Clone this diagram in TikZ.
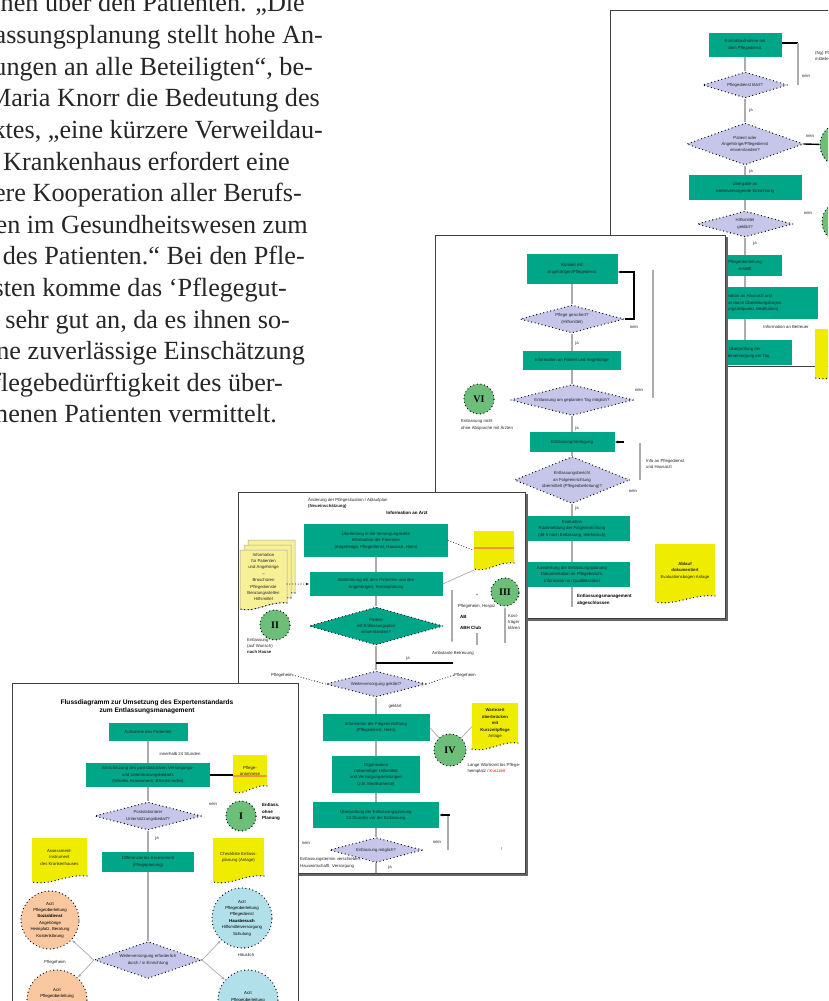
\documentclass[tikz,border=0pt]{standalone}
\usepackage{fontspec}
\setmainfont{Liberation Serif}
\setsansfont{Liberation Sans}
\usetikzlibrary{shapes.geometric,arrows.meta}
\definecolor{tealbox}{RGB}{0,166,136}
\definecolor{lav}{RGB}{198,198,234}
\definecolor{ynt}{RGB}{240,236,0}
\definecolor{paley}{RGB}{248,240,150}
\definecolor{grnc}{RGB}{108,190,120}
\definecolor{orc}{RGB}{250,200,160}
\definecolor{bluc}{RGB}{178,224,234}
\definecolor{lgray}{RGB}{172,172,172}
\definecolor{stripec}{RGB}{238,150,60}
\newcommand\tf{\fontsize{4.3}{6.4}\selectfont\sffamily}
\newcommand\tfb{\fontsize{4.5}{6.4}\selectfont\sffamily\bfseries}
\newcommand\ttl{\fontsize{6.6}{8}\selectfont\sffamily\bfseries}
\newcommand\rom{\fontsize{10}{10}\selectfont\rmfamily\bfseries}
\tikzset{
 pgbox/.style={draw=black!75,fill=white,line width=1pt},
 pshadow/.style={fill=black!60},
 tb/.style={rectangle,fill=tealbox,draw=none,inner sep=0pt,align=center,font=\tf,text=black!85},
 dia/.style={shape=diamond,fill=lav,draw=black,line width=1.3pt,dash pattern=on 0pt off 3.6pt,line cap=round,inner sep=0pt},
 circ/.style={circle,draw=black,line width=1.3pt,dash pattern=on 0pt off 3.6pt,line cap=round,inner sep=0pt,align=center},
 lab/.style={font=\tf,inner sep=0pt,text=black!85},
 labb/.style={font=\tfb,inner sep=0pt,text=black},
 ln/.style={draw=lgray,line width=1.4pt},
 thk/.style={draw=black,line width=1.4pt},
 thn/.style={draw=lgray,line width=0.7pt},
 dl/.style={draw=black!85,line width=1.1pt,dash pattern=on 0pt off 2.8pt,line cap=round},
 dotb/.style={draw=black,line width=1.3pt,dash pattern=on 0pt off 3.6pt,line cap=round},
 arr/.style={-{Latex[length=3.5pt,width=3pt]}},
}
% yellow note: name, centre, width, height, fill options, text
\newcommand\ynote[6]{%
 \node[inner sep=0pt,outer sep=0pt,minimum width=#3,minimum height=#4] (#1) at #2 {};
 \fill[#5] (#1.north west) -- (#1.north east) -- ([yshift=7pt]#1.south east)
   .. controls ([xshift=-0.4*#3,yshift=9pt]#1.south east) and ([xshift=0.35*#3,yshift=-3pt]#1.south west) .. ([yshift=1pt]#1.south west) -- cycle;
 \draw[dotb] ([yshift=7pt]#1.south east)
   .. controls ([xshift=-0.4*#3,yshift=9pt]#1.south east) and ([xshift=0.35*#3,yshift=-3pt]#1.south west) .. ([yshift=1pt]#1.south west);
 \node[lab,align=center] at ([yshift=3pt]#1.center) {#6};
}
\begin{document}
\begin{tikzpicture}[x=1pt,y=-1pt]
\useasboundingbox (0,0) rectangle (828,1001);
\clip (0,0) rectangle (828,1001);
\fill[white] (0,0) rectangle (828,1001);

% ---------------- body text
\begin{scope}[font=\fontsize{26.2}{31.6}\selectfont\rmfamily, text=black!85]
\node[anchor=base east,inner sep=0pt] (l01) at (305,12) {Informationen über den Patienten. „Die};
\node[anchor=base east,inner sep=0pt] (l02) at (323,43.6) {Entlassungsplanung stellt hohe An-};
\node[anchor=base east,inner sep=0pt] (l03) at (313,75.2) {forderungen an alle Beteiligten“, be-};
\node[anchor=base east,inner sep=0pt] (l04) at (320,106.8) {tont Maria Knorr die Bedeutung des};
\node[anchor=base east,inner sep=0pt] (l05) at (323,138.4) {Projektes, „eine kürzere Verweildau-};
\node[anchor=base east,inner sep=0pt] (l06) at (290,170) {er im Krankenhaus erfordert eine};
\node[anchor=base east,inner sep=0pt] (l07) at (302,201.6) {engere Kooperation aller Berufs-};
\node[anchor=base east,inner sep=0pt] (l08) at (308,233.2) {gruppen im Gesundheitswesen zum};
\node[anchor=base east,inner sep=0pt] (l09) at (305,264.8) {Wohle des Patienten.“ Bei den Pfle-};
\node[anchor=base east,inner sep=0pt] (l10) at (287,296.4) {gediensten komme das ‘Pflegegut-};
\node[anchor=base east,inner sep=0pt] (l11) at (290,328) {achten’ sehr gut an, da es ihnen so-};
\node[anchor=base east,inner sep=0pt] (l12) at (305,359.6) {fort eine zuverlässige Einschätzung};
\node[anchor=base east,inner sep=0pt] (l13) at (283,391.2) {der Pflegebedürftigkeit des über-};
\node[anchor=base east,inner sep=0pt] (l14) at (277,422.8) {nommenen Patienten vermittelt.};
\end{scope}

% ---------------- page 4
\draw[pgbox] (610,10) rectangle (880,366);
\node[tb,minimum width=73pt,minimum height=24pt] (b41) at (745,45) {Kontaktaufnahme mit\\dem Pflegedienst};
\node[dia,minimum width=85pt,minimum height=26pt] (d41) at (745,85) {};
\node[lab] at (d41) {Pflegedienst klärt?};
\node[dia,minimum width=117pt,minimum height=42pt] (d42) at (745,144) {};
\node[lab,align=center] at (d42) {Patient oder\\Angehörige/Pflegedienst\\einverstanden?};
\node[tb,minimum width=113pt,minimum height=25pt] (b42) at (745,187.5) {Übergabe an\\weiterversorgende Einrichtung};
\node[dia,minimum width=96pt,minimum height=26pt] (d43) at (745,224) {};
\node[lab,align=center] at (d43) {Hilfsmittel\\geklärt?};
\node[tb,minimum width=74pt,minimum height=21pt] (b43) at (745,265.5) {Pflegeüberleitung\\erstellt};
\node[tb,minimum width=146pt,minimum height=32pt] (b44) at (745,303) {Information an Hausarzt und\\Pflegedienst durch Überleitungsbogen\\(Entlassungszeitpunkt, Medikation)};
\node[tb,minimum width=94pt,minimum height=25pt] (b45) at (745,352.5) {Überprüfung der\\Weiterversorgung am Tag};
\node[circ,fill=grnc,minimum size=44pt,font=\rom] (c41) at (842,145) {V};
\node[circ,fill=grnc,minimum size=42pt,font=\rom] (c42) at (843,222) {VII};
\ynote{n41}{(842,354)}{54pt}{50pt}{ynt}{Anlage\\Bogen}
\draw[ln] (b41) -- (d41);
\draw[ln] (d41) -- (d42);
\draw[ln] (d42) -- (b42);
\draw[ln] (b42) -- (d43);
\draw[ln] (d43) -- (b43);
\draw[ln] (b43) -- (b44);
\draw[ln] (b44) -- (b45);
\coordinate (k41) at (798,43);
\coordinate (k42) at (798,85);
\draw[thk] (b41.east |- k41) -- (k41);
\draw[ln] (k41) -- (k42);
\draw[thk] (d42.east) -- (c41);
\node[lab] at (806,76) {nein};
\node[lab] at (810,136) {nein};
\node[lab] at (808,213) {nein};
\node[lab,anchor=west,align=left] at (815,56) {(Ng) Pflege\\mitteilen};
\node[lab] at (751,110) {ja};
\node[lab] at (751,171) {ja};
\node[lab] at (755,243) {ja};
\node[lab] at (786,327) {Information an Betreuer};

% ---------------- page 3
\fill[pshadow] (437,237) rectangle (727.5,620.5);
\draw[pgbox] (435,235) rectangle (725,618);
\node[tb,minimum width=91pt,minimum height=30pt] (b31) at (572,269) {Kontakt mit\\Angehörigen/Pflegedienst};
\node[dia,minimum width=104pt,minimum height=28pt] (d31) at (572,319) {};
\node[lab,align=center] at (d31) {Pflege gesichert?\\(Hilfsmittel)};
\node[tb,minimum width=98pt,minimum height=19pt] (b32) at (572,360.5) {Information an Patient und Angehörige};
\node[dia,minimum width=123pt,minimum height=31pt] (d32) at (572,400) {};
\node[lab] at (d32) {Entlassung am geplanten Tag möglich?};
\node[circ,fill=grnc,minimum size=30pt,font=\rom] (c31) at (479,399) {VI};
\node[lab,align=left] at (487,425) {Entlassung nicht\\ohne Absprache mit Ärzten};
\node[tb,minimum width=85pt,minimum height=20pt] (b33) at (572,442) {Entlassung/Verlegung};
\node[dia,minimum width=115pt,minimum height=47pt] (d33) at (572,480) {};
\node[lab,align=center] at (d33) {Entlassungsbericht\\an Folgeeinrichtung\\übermittelt (Pflegeüberleitung)?};
\node[tb,minimum width=116pt,minimum height=25pt] (b34) at (572,528.5) {Evaluation\\Rückmeldung der Folgeeinrichtung\\(48 h nach Entlassung, telefonisch)};
\node[tb,minimum width=116pt,minimum height=25pt] (b35) at (572,574.5) {Auswertung der Entlassungsplanung\\Dokumentation im Pflegebericht,\\Information an Qualitätszirkel};
\ynote{n31}{(685,573.5)}{60pt}{59pt}{ynt}{\textbf{Ablauf}\\\textbf{dokumentiert}\\Evaluationsbogen Anlage}
\coordinate (k31) at (634,319);
\coordinate (k32) at (634,272);
\draw[thk,arr] (d31.east) -- (k31) -- (k32) -- (b31.east |- k32);
\draw[ln] (b31) -- (d31);
\draw[ln] (d31) -- (b32);
\draw[ln] (b32) -- (d32);
\draw[ln] (d32) -- (b33);
\draw[ln] (b33) -- (d33);
\draw[ln] (d33) -- (b34);
\draw[ln] (b34) -- (b35);
\coordinate (k33) at (572,607);
\draw[ln] (b35) -- (k33);
\coordinate (k34) at (653,270);
\coordinate (k35) at (653,398);
\draw[ln] (k34) -- (k35);
\coordinate (k36) at (640,443);
\coordinate (k37) at (640,480);
\draw[ln] (k36) -- (k37);
\coordinate (k38) at (624,442);
\draw[thk,arr] (k38) -- (b33.east);
\node[lab] at (634,327) {nein};
\node[lab] at (639,390) {nein};
\node[lab] at (633,491) {nein};
\node[lab] at (577,343) {ja};
\node[lab] at (577,428) {ja};
\node[lab] at (577,508) {ja};
\node[lab,anchor=west,align=left] at (646,464) {Info an Pflegedienst\\und Hausarzt};
\node[labb,anchor=west,align=left] at (577,600) {Entlassungsmanagement\\abgeschlossen};

% ---------------- page 2
\fill[pshadow] (240,494) rectangle (527.5,875.5);
\draw[pgbox] (238,492) rectangle (525,873);
\node[lab,anchor=west,align=left] at (308,503) {Änderung der Pflegesituation / Ablaufplan\\\textbf{(Neueinschätzung)}};
\node[labb] at (407,513) {Information an Arzt};
\node[tb,minimum width=144pt,minimum height=33pt] (b21) at (376,540.5) {Überleitung in die Versorgungskette\\Information der Patienten\\(Angehörige, Pflegedienst, Hausarzt, Heim)};
\ynote{n21}{(494,550.5)}{40pt}{39pt}{ynt}{}
\draw[stripec,line width=1.3pt] ([yshift=2.5pt]n21.west) -- ([yshift=2.5pt]n21.east);
\node[tb,minimum width=133pt,minimum height=24pt] (b22) at (376,584) {Abstimmung mit dem Patienten und den\\Angehörigen, Terminplanung};
\ynote{s23}{(271.5,570)}{47pt}{60pt}{paley,draw=black!35,line width=0.5pt}{}
\ynote{s22}{(267.5,575)}{47pt}{60pt}{paley,draw=black!35,line width=0.5pt}{}
\ynote{s21}{(263.5,580)}{47pt}{60pt}{paley,draw=black!35,line width=0.5pt}{Information\\für Patienten\\und Angehörige\\--\\Broschüren\\Pflegedienste\\Beratungsstellen\\Hilfsmittel}
\node[dia,fill=tealbox,minimum width=134pt,minimum height=38pt] (d21) at (376,626) {};
\node[lab,align=center] at (d21) {Patient\\mit Entlassungsplan\\einverstanden?};
\node[circ,fill=grnc,minimum size=30pt,font=\rom] (c21) at (275,625) {II};
\node[lab,anchor=west,align=left] at (247,646) {Entlassung\\(auf Wunsch)\\\textbf{nach Hause}};
\node[circ,fill=grnc,minimum size=28pt,font=\rom] (c22) at (505,592) {III};
\node[lab,anchor=west,align=left] at (508,622) {Kost-\\träger\\klären};
\node[lab] at (477,595) {+};
\node[lab,anchor=west] at (458,606) {Pflegeheim, Hospiz};
\node[labb,anchor=west] at (460,617) {AB};
\node[labb,anchor=west] at (460,628) {ABH Club};
\node[lab] at (453,653) {Ambulante Betreuung};
\node[dia,minimum width=100pt,minimum height=26pt] (d22) at (376,684) {};
\node[lab] at (d22) {Weiterversorgung geklärt?};
\node[lab] (p21) at (282,675) {Pflegeheim};
\node[lab] (p22) at (465,675) {Pflegeheim};
\node[lab] at (395,706) {geklärt};
\node[tb,minimum width=107pt,minimum height=27pt] (b23) at (376,727.5) {Information der Folgeeinrichtung\\(Pflegedienst, Heim)};
\node[circ,fill=grnc,minimum size=32pt,font=\rom] (c23) at (450,750) {IV};
\ynote{n22}{(495,726.5)}{46pt}{47pt}{ynt}{\textbf{Wartezeit}\\\textbf{überbrücken}\\\textbf{mit}\\\textbf{Kurzzeitpflege}\\Anlage}
\node[lab,align=left] at (494,768.5) {Lange Wartezeit bis Pflege-\\heimplatz / \textcolor{red}{Kurzzeit}};
\node[tb,minimum width=88pt,minimum height=37pt] (b24) at (376,774.5) {Organisation\\notwendiger Hilfsmittel\\und Versorgungsleistungen\\(z.B. Medikamente)};
\node[tb,minimum width=126pt,minimum height=26pt] (b25) at (376,815) {Überprüfung der Entlassungsplanung\\24 Stunden vor der Entlassung};
\node[dia,minimum width=93pt,minimum height=25pt] (d23) at (376,850) {};
\node[lab] at (d23) {Entlassung möglich?};
\node[lab] at (306,843) {nein};
\node[lab,anchor=west,align=left] at (300,863) {Entlassungstermin verschieben,\\Hauswirtschaftl. Versorgung};
\node[lab] at (437,842) {nein};
\node[lab] at (390,867) {ja};
\node[lab] at (408,658) {ja};
\node[lab] at (502,849) {!};
\draw[ln] (b21) -- (b22);
\draw[ln] (b22) -- (d21);
\draw[ln] (d21) -- (d22);
\draw[ln] (d22) -- (b23);
\draw[ln] (b23) -- (b24);
\draw[ln] (b24) -- (b25);
\draw[ln] (b25) -- (d23);
\coordinate (k21) at (376,873);
\draw[ln] (d23) -- (k21);
\draw[dl] (b21.east) -- (n21.west);
\draw[thn] (b22.east) -- (n21.south west);
\draw[dl,arr] (s21.east |- b22) -- (b22.west);
\draw[dl] (p21.east) -- (d22.west);
\draw[dl] (d22.east) -- (p22.west);
\draw[thn] (b23.east) -- (c23);
\draw[thn] (c23) -- (n22.west);
\coordinate (k22) at (376,663);
\coordinate (k23) at (453,663);
\draw[thk] (k22) -- (k23);
\coordinate (k24) at (452,590);
\coordinate (k25) at (452,643);
\draw[ln,arr] (k24) -- (k25);
\coordinate (k26) at (477,633);
\coordinate (k27) at (477,645);
\draw[ln] (k26) -- (k27);
\coordinate (k28) at (505,643);
\draw[ln,arr] (k28) -- (c22.south);
\coordinate (k29) at (448,815);
\coordinate (k30) at (448,850);
\draw[ln] (k29) -- (k30);
\coordinate (k2a) at (450,815);
\draw[thk,arr] (k2a) -- (b25.east);

% ---------------- page 1
\draw[pgbox] (12,683) rectangle (298,1030);
\node[font=\ttl,align=center,inner sep=0pt] (t11) at (147,707) {Flussdiagramm zur Umsetzung des Expertenstandards\\zum Entlassungsmanagement};
\node[tb,minimum width=79pt,minimum height=18pt] (b11) at (148,732) {Aufnahme des Patienten};
\node[lab] at (180,754) {innerhalb 24 Stunden};
\node[tb,minimum width=124pt,minimum height=24pt] (b12) at (148,775) {Einschätzung des poststationären Versorgungs-\\und Unterstützungsbedarfs\\(Initiales Assessment: BRASS-Index)};
\ynote{n11}{(250,774)}{34pt}{38pt}{ynt}{Pflege-\\anamnese}
\draw[stripec,line width=1.3pt] ([yshift=-2pt]n11.west) -- ([yshift=-2pt]n11.east);
\node[dia,minimum width=107pt,minimum height=28pt] (d11) at (148,816) {};
\node[lab,align=center] at (d11) {Poststationärer\\Unterstützungsbedarf?};
\node[circ,fill=grnc,minimum size=30pt,font=\rom] (c11) at (241,816) {I};
\node[labb,anchor=west,align=left] at (262,812) {Entlass.\\ohne\\Planung};
\node[lab] at (213,804) {nein};
\node[lab] at (157,838) {ja};
\node[tb,minimum width=92pt,minimum height=20pt] (b13) at (148,862) {Differenziertes Assessment\\(Pflegeplanung)};
\ynote{n12}{(59.5,860.5)}{55pt}{45pt}{ynt}{Assessment-\\Instrument\\des Krankenhauses}
\ynote{n13}{(238.5,860.5)}{51pt}{45pt}{ynt}{Checkliste Entlass-\\planung (Anlage)}
\node[circ,fill=orc,minimum size=58pt,font=\tf] (o11) at (50,920) {Arzt\\Pflegeüberleitung\\\textbf{Sozialdienst}\\Angehörige\\Heimplatz, Beratung\\Kostenklärung};
\node[circ,fill=orc,minimum size=60pt,font=\tf] (o12) at (57,1000) {Arzt\\Pflegeüberleitung\\\textbf{Sozialdienst}\\Heimplatz};
\node[circ,fill=bluc,minimum size=60pt,font=\tf] (u11) at (242,918) {Arzt\\Pflegeüberleitung\\Pflegedienst\\\textbf{Hausbesuch}\\Hilfsmittelversorgung\\Schulung};
\node[circ,fill=bluc,minimum size=60pt,font=\tf] (u12) at (248,1000) {Arzt\\Pflegeüberleitung\\Pflegedienst};
\node[dia,minimum width=107pt,minimum height=37pt] (d12) at (148,960) {};
\node[lab,align=center] at (d12) {Weiterversorgung erforderlich\\durch / in Einrichtung};
\node[lab] at (55,962) {Pflegeheim};
\node[lab] at (246,955) {Häuslich};
\draw[ln] (b11) -- (b12);
\draw[ln] (b12) -- (d11);
\draw[ln] (d11) -- (b13);
\draw[ln] (b13) -- (d12);
\draw[thk] (b12.east) -- (n11.west |- b12.east);
\draw[thn,arr] (d12.west) -- (o11);
\draw[thn,arr] (d12.west) -- (o12);
\draw[thn,arr] (d12.east) -- (u11);
\draw[thn,arr] (d12.east) -- (u12);
\end{tikzpicture}
\end{document}
